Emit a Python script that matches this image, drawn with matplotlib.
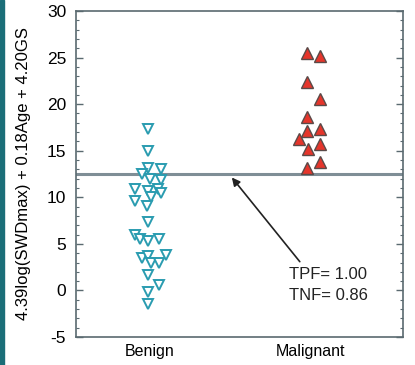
import matplotlib
matplotlib.use("Agg")
import matplotlib.pyplot as plt
from matplotlib.patches import Rectangle
from matplotlib.ticker import MultipleLocator

plt.rcParams['font.family'] = ['Liberation Sans', 'DejaVu Sans']
plt.rcParams['axes.unicode_minus'] = False

categories = ["Benign", "Malignant"]
cat_pos = [1.0, 2.0]

benign_x = [0.99, 0.99, 0.99, 1.07, 0.95, 1.00, 1.07, 0.91, 0.99, 1.05, 1.01, 1.07,
            0.91, 0.98, 0.99, 0.91, 0.94, 0.99, 1.06, 0.95, 0.99, 1.01, 1.06, 1.10,
            0.99, 1.06, 0.99, 0.99]
benign_y = [17.37, 14.96, 13.17, 12.99, 12.45, 11.92, 11.84, 10.84, 10.66, 10.84, 10.05, 10.41,
            9.58, 9.12, 7.36, 5.92, 5.56, 5.35, 5.56, 3.49, 3.66, 2.95, 2.95, 3.77,
            1.69, 0.61, -0.17, -1.46]

malig_x = [1.98, 2.06, 1.98, 2.06, 1.98, 2.06, 1.98, 1.93, 2.06, 1.99, 2.06, 1.98]
malig_y = [25.55, 25.19, 22.39, 20.60, 18.66, 17.37, 17.12, 16.22, 15.68, 15.14, 13.78, 13.17]

threshold = 12.55
tpf_text = "TPF= 1.00"
tnf_text = "TNF= 0.86"
ylabel = "4.39log(SWDmax) + 0.18Age + 4.20GS"

fig = plt.figure(figsize=(4.15, 3.65), dpi=100)
fig.patches.append(Rectangle((0, 0), 4/415, 1, transform=fig.transFigure,
                             color="#1b6e78", zorder=0))
ax = fig.add_axes([0.183, 0.0767, 0.788, 0.893])

ax.axhline(threshold, color="#7f8e96", lw=2.2, zorder=1)

ax.plot(benign_x, benign_y, linestyle="none", marker="v", markersize=7.5,
        markerfacecolor="white", markeredgecolor="#2a9cb0", markeredgewidth=1.4, zorder=3)
ax.plot(malig_x, malig_y, linestyle="none", marker="^", markersize=8,
        markerfacecolor="#e5352b", markeredgecolor="#5a4a48", markeredgewidth=1.0, zorder=3)

ax.annotate("", xy=(1.512, 12.13), xytext=(1.936, 3.09),
            arrowprops=dict(arrowstyle="-|>", color="#222222", lw=1.2, mutation_scale=12,
                            shrinkA=0, shrinkB=0))
ax.text(1.87, 1.69, tpf_text, fontsize=12, ha="left", va="center", color="#222222")
ax.text(1.87, -0.57, tnf_text, fontsize=12, ha="left", va="center", color="#222222")

ax.set_xlim(0.539, 2.58)
ax.set_ylim(-5, 30)
ax.set_xticks(cat_pos)
ax.set_xticklabels(categories, fontsize=11.5)
ax.tick_params(axis="x", length=0, pad=5)
ax.yaxis.set_major_locator(MultipleLocator(5))
ax.yaxis.set_minor_locator(MultipleLocator(1))
ax.tick_params(axis="y", which="both", direction="in", left=True, right=True,
               color="#5a6a70", labelsize=12.5, pad=7)
ax.tick_params(axis="y", which="major", length=5, width=1)
ax.tick_params(axis="y", which="minor", length=2.5, width=0.8)
for s in ax.spines.values():
    s.set_color("#5a6a70")
    s.set_linewidth(1.2)
ax.set_ylabel(ylabel, fontsize=12, labelpad=11)

fig.savefig("out.png", dpi=100)
